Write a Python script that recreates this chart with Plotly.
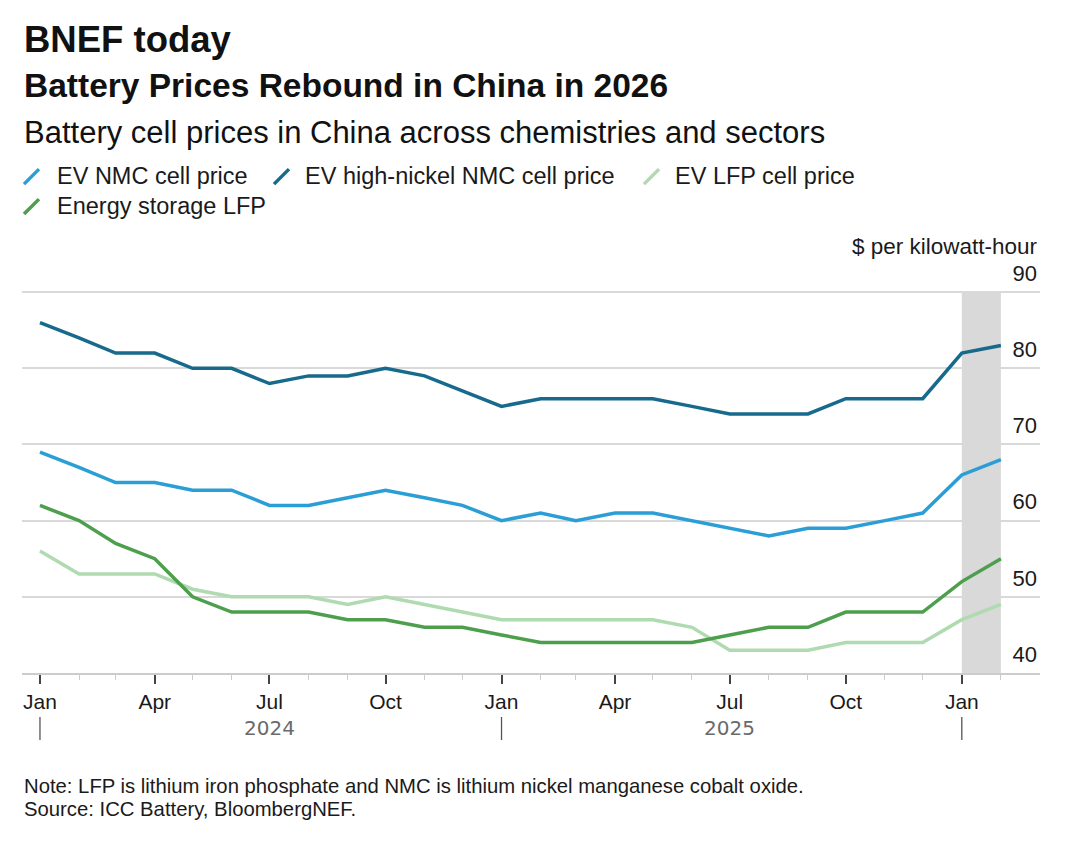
import plotly.graph_objects as go

# ---------------- data ----------------
months = ["2024-01-01", "2024-02-01", "2024-03-01", "2024-04-01", "2024-05-01", "2024-06-01",
          "2024-07-01", "2024-08-01", "2024-09-01", "2024-10-01", "2024-11-01", "2024-12-01",
          "2025-01-01", "2025-02-01", "2025-03-01", "2025-04-01", "2025-05-01", "2025-06-01",
          "2025-07-01", "2025-08-01", "2025-09-01", "2025-10-01", "2025-11-01", "2025-12-01",
          "2026-01-01", "2026-02-01"]
ev_nmc = [69, 67, 65, 65, 64, 64, 62, 62, 63, 64, 63, 62,
          60, 61, 60, 61, 61, 60, 59, 58, 59, 59, 60, 61,
          66, 68]
ev_high_nickel = [86, 84, 82, 82, 80, 80, 78, 79, 79, 80, 79, 77,
                  75, 76, 76, 76, 76, 75, 74, 74, 74, 76, 76, 76,
                  82, 83]
ev_lfp = [56, 53, 53, 53, 51, 50, 50, 50, 49, 50, 49, 48,
          47, 47, 47, 47, 47, 46, 43, 43, 43, 44, 44, 44,
          47, 49]
storage_lfp = [62, 60, 57, 55, 50, 48, 48, 48, 47, 47, 46, 46,
               45, 44, 44, 44, 44, 44, 45, 46, 46, 48, 48, 48,
               52, 55]

series_names = ["EV NMC cell price", "EV high-nickel NMC cell price",
                "EV LFP cell price", "Energy storage LFP"]
tick_vals = ["2024-01-01", "2024-04-01", "2024-07-01", "2024-10-01",
             "2025-01-01", "2025-04-01", "2025-07-01", "2025-10-01", "2026-01-01"]
tick_text = ["Jan", "Apr", "Jul", "Oct", "Jan", "Apr", "Jul", "Oct", "Jan"]
year_labels = ["2024", "2025"]
year_label_pos = ["2024-07-01", "2025-07-01"]
year_breaks = ["2024-01-01", "2025-01-01", "2026-01-01"]
y_ticks = [40, 50, 60, 70, 80, 90]
highlight = ["2026-01-01", "2026-02-01"]

# ---------------- styles ----------------
colors = {
    "EV NMC cell price": "#2b9ed6",
    "EV high-nickel NMC cell price": "#176a8c",
    "EV LFP cell price": "#b0dab0",
    "Energy storage LFP": "#4d9f4d",
}
FONT = "Liberation Sans, Arial, Helvetica, sans-serif"

# plot area in pixels (y range extends to 95 so the top label has room)
W, H = 1080, 852
Y_MIN, Y_MAX, Y_TOP_GRID = 40, 95, 90
L, R, B = 22, 40, 179
PX_PER_UNIT = (673 - 292) / (Y_TOP_GRID - Y_MIN)
T = 292 - (Y_MAX - Y_TOP_GRID) * PX_PER_UNIT
PW, PH = W - L - R, H - T - B


def px(x):
    return (x - L) / PW


def py(y):
    return (H - B - y) / PH


fig = go.Figure()

values = {
    "EV NMC cell price": ev_nmc,
    "EV high-nickel NMC cell price": ev_high_nickel,
    "EV LFP cell price": ev_lfp,
    "Energy storage LFP": storage_lfp,
}
# draw order: light LFP first, then storage, then NMC lines
for name in ["EV LFP cell price", "Energy storage LFP", "EV NMC cell price",
             "EV high-nickel NMC cell price"]:
    fig.add_trace(go.Scatter(
        x=months, y=values[name], mode="lines", name=name,
        line=dict(color=colors[name], width=3.5), showlegend=False,
        hoverinfo="skip"))

# highlighted (latest) period
fig.add_shape(type="rect", xref="x", yref="y", x0=highlight[0], x1=highlight[1],
              y0=Y_MIN, y1=Y_TOP_GRID, fillcolor="#d9d9d9", line_width=0, layer="below")

# year separators and year labels below the axis
for d in year_breaks:
    fig.add_shape(type="line", xref="x", yref="paper", x0=d, x1=d,
                  y0=py(717), y1=py(740), line=dict(color="#555555", width=1.3))
for lab, d in zip(year_labels, year_label_pos):
    fig.add_annotation(x=d, xref="x", y=py(728), yref="paper", text=lab,
                       showarrow=False, xanchor="center", yanchor="middle",
                       font=dict(family="DejaVu Sans, sans-serif", size=20, color="#6a6a6a"))

# ---------------- titles ----------------
texts = [
    ("BNEF today", 39, 36.5, True),
    ("Battery Prices Rebound in China in 2026", 85, 33.5, True),
    ("Battery cell prices in China across chemistries and sectors", 132, 31, False),
]
for t, yy, size, bold in texts:
    fig.add_annotation(x=px(22), y=py(yy), xref="paper", yref="paper",
                       text=f"<b>{t}</b>" if bold else t, showarrow=False,
                       xanchor="left", yanchor="middle",
                       font=dict(family=FONT, size=size, color="#111111"))

# ---------------- legend (custom) ----------------
legend_layout = [
    ("EV NMC cell price", 24, 55, 176),
    ("EV high-nickel NMC cell price", 274, 303, 176),
    ("EV LFP cell price", 644, 673, 176),
    ("Energy storage LFP", 24, 55, 206),
]
for name, ix, tx, yy in legend_layout:
    fig.add_shape(type="line", xref="paper", yref="paper",
                  x0=px(ix), x1=px(ix + 15), y0=py(yy + 8), y1=py(yy - 7),
                  line=dict(color=colors[name], width=3.5))
    fig.add_annotation(x=px(tx), y=py(yy), xref="paper", yref="paper",
                       text=name, showarrow=False, xanchor="left", yanchor="middle",
                       font=dict(family=FONT, size=23.5, color="#1a1a1a"))

# unit label
fig.add_annotation(x=px(1040), y=py(246), xref="paper", yref="paper",
                   text="$ per kilowatt-hour", showarrow=False,
                   xanchor="right", yanchor="middle",
                   font=dict(family=FONT, size=22.5, color="#1a1a1a"))

# notes
fig.add_annotation(x=px(22), y=py(786), xref="paper", yref="paper",
                   text="Note: LFP is lithium iron phosphate and NMC is lithium nickel manganese cobalt oxide.",
                   showarrow=False, xanchor="left", yanchor="middle",
                   font=dict(family=FONT, size=20.3, color="#1a1a1a"))
fig.add_annotation(x=px(22), y=py(809), xref="paper", yref="paper",
                   text="Source: ICC Battery, BloombergNEF.",
                   showarrow=False, xanchor="left", yanchor="middle",
                   font=dict(family=FONT, size=20.3, color="#1a1a1a"))

fig.update_layout(
    width=W, height=H,
    margin=dict(l=L, r=R, t=T, b=B, autoexpand=False),
    paper_bgcolor="white", plot_bgcolor="white",
    showlegend=False,
    xaxis=dict(
        type="date",
        range=["2023-12-17 18:00", "2026-03-04"],
        tickmode="array", tickvals=tick_vals, ticktext=tick_text,
        ticks="outside", ticklen=9, tickwidth=1.5, tickcolor="#444444",
        showgrid=False, zeroline=False,
        showline=True, linecolor="#cccccc", linewidth=1.5,
        tickfont=dict(family=FONT, size=21, color="#1a1a1a"),
        minor=dict(dtick="M1", tick0="2024-01-01", ticks="outside",
                   ticklen=5, tickcolor="#cccccc", tickwidth=1, showgrid=False),
        fixedrange=True,
    ),
    yaxis=dict(
        range=[Y_MIN, Y_MAX], side="right",
        tickmode="array", tickvals=y_ticks,
        ticklabelposition="inside", ticklabelshift=-19, ticklabelstandoff=0,
        showgrid=True, gridcolor="#d9d9d9", gridwidth=1.5,
        zeroline=False, showline=False, ticks="",
        tickfont=dict(family=FONT, size=22, color="#1a1a1a"),
        fixedrange=True,
    ),
)

fig.write_html("out.html")
